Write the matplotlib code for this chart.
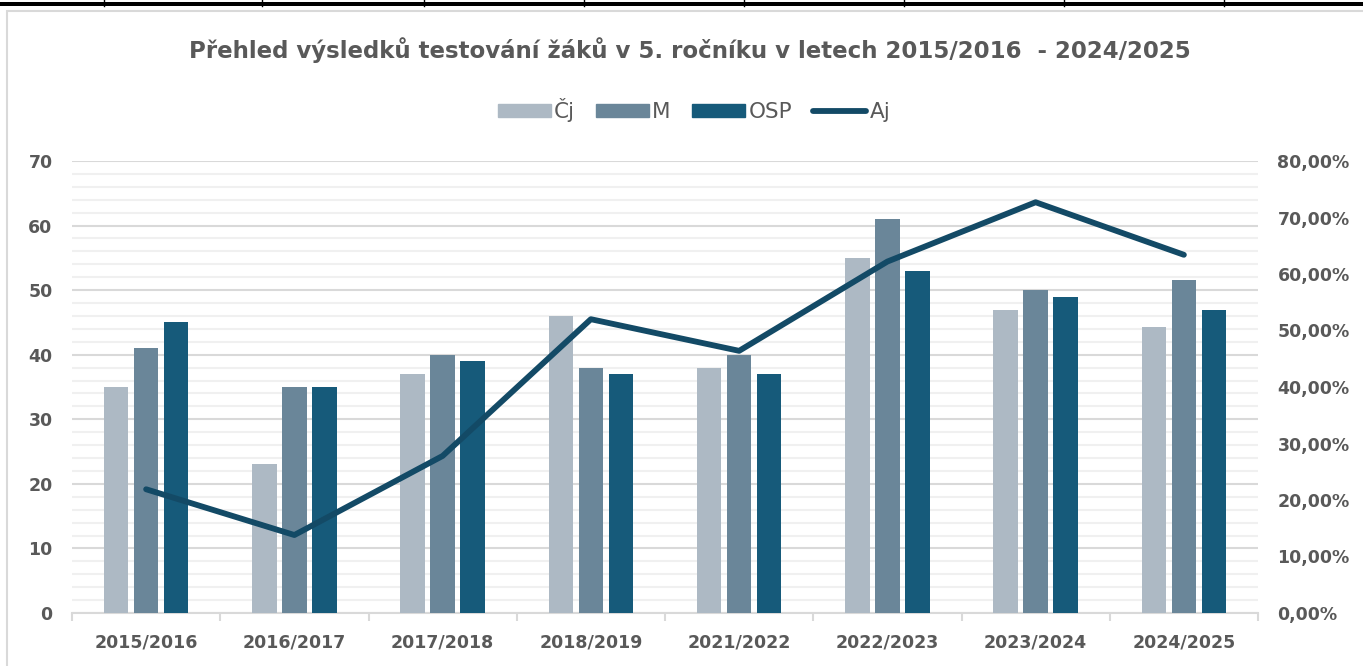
import matplotlib.pyplot as plt
from matplotlib.lines import Line2D
from matplotlib.patches import Rectangle, Patch
from matplotlib.ticker import MultipleLocator, FuncFormatter
import numpy as np

roky = ['2015/2016', '2016/2017', '2017/2018', '2018/2019',
        '2021/2022', '2022/2023', '2023/2024', '2024/2025']
cj = [35, 23, 37, 46, 38, 55, 47, 44.3]
m = [41, 35, 40, 38, 40, 61, 50, 51.5]
osp = [45, 35, 39, 37, 37, 53, 49, 47]
aj = [21.9, 13.8, 27.8, 52.0, 46.4, 62.2, 72.7, 63.4]

barvy = {'Čj': '#ADB9C4', 'M': '#6A8699', 'OSP': '#165A7A', 'Aj': '#134A66'}
seda = '#595959'

plt.rcParams['font.family'] = ['DejaVu Sans']

W, H = 1363, 666
fig = plt.figure(figsize=(W / 100, H / 100), dpi=100)

# ramecek grafu a okraj bunek nahore
fig.add_artist(Rectangle((7 / W, -0.1), 1.2, 1 - 11 / H + 0.1, transform=fig.transFigure,
                         fill=False, edgecolor='#D9D9D9', lw=1.5))
fig.add_artist(Rectangle((0, 1 - 6 / H), 1, 4 / H, transform=fig.transFigure,
                         facecolor='black', edgecolor='none'))
for xv in [104, 262, 424, 584, 744, 904, 1064, 1224]:
    fig.add_artist(Line2D([xv / W, xv / W], [1, 1 - 6 / H], transform=fig.transFigure,
                          color='black', lw=1))

ax = fig.add_axes([72 / W, 1 - 613 / H, (1258 - 72) / W, (613 - 161) / H])
x = np.arange(len(roky))
sirka = 0.165
krok = 0.203

ax.bar(x - krok, cj, sirka, color=barvy['Čj'], zorder=3)
ax.bar(x, m, sirka, color=barvy['M'], zorder=3)
ax.bar(x + krok, osp, sirka, color=barvy['OSP'], zorder=3)

ax.set_xlim(-0.5, len(roky) - 0.5)
ax.set_ylim(0, 70)
ax.yaxis.set_major_locator(MultipleLocator(10))
ax.yaxis.set_minor_locator(MultipleLocator(2))
ax.grid(axis='y', which='major', color='#D9D9D9', lw=1.5, zorder=0)
ax.grid(axis='y', which='minor', color='#F0F0F0', lw=1.5, zorder=0)
ax.set_axisbelow(True)

ax.set_xticks(x)
ax.set_xticklabels(roky, fontsize=12.5, fontweight='bold', color=seda)
ax.set_xticks(np.arange(len(roky) + 1) - 0.5, minor=True)
ax.tick_params(axis='x', which='major', length=0, pad=15)
ax.tick_params(axis='x', which='minor', length=6, color='#D9D9D9', width=1.5)
ax.tick_params(axis='y', which='both', length=0, pad=14, labelsize=12.5, labelcolor=seda)
for t in ax.get_yticklabels():
    t.set_fontweight('bold')
for s in ['top', 'right', 'left']:
    ax.spines[s].set_visible(False)
ax.spines['bottom'].set_color('#D9D9D9')
ax.spines['bottom'].set_linewidth(1.5)

ax2 = ax.twinx()
ax2.plot(x, aj, color=barvy['Aj'], lw=4.2, solid_capstyle='round', solid_joinstyle='round', zorder=4)
ax2.set_ylim(0, 80)
ax2.yaxis.set_major_locator(MultipleLocator(10))
ax2.yaxis.set_major_formatter(FuncFormatter(lambda v, p: f'{v:.2f}'.replace('.', ',') + '%'))
ax2.tick_params(axis='y', length=0, pad=14, labelsize=12.5, labelcolor=seda)
for t in ax2.get_yticklabels():
    t.set_fontweight('bold')
for s in ax2.spines.values():
    s.set_visible(False)

fig.text(690 / W, 1 - 50 / H, 'Přehled výsledků testování žáků v 5. ročníku v letech 2015/2016  - 2024/2025',
         ha='center', va='center', fontsize=16.5, fontweight='bold', color=seda)

handles = [Patch(color=barvy['Čj']), Patch(color=barvy['M']), Patch(color=barvy['OSP']),
           Line2D([], [], color=barvy['Aj'], lw=4.2, solid_capstyle='round')]
fig.legend(handles, ['Čj', 'M', 'OSP', 'Aj'], loc='center', bbox_to_anchor=(694 / W, 1 - 110 / H),
           ncol=4, frameon=False, fontsize=15.5, labelcolor=seda, handlelength=2.45,
           handleheight=0.6, handletextpad=0.15, columnspacing=1.0)

fig.savefig('out.png', dpi=100)
